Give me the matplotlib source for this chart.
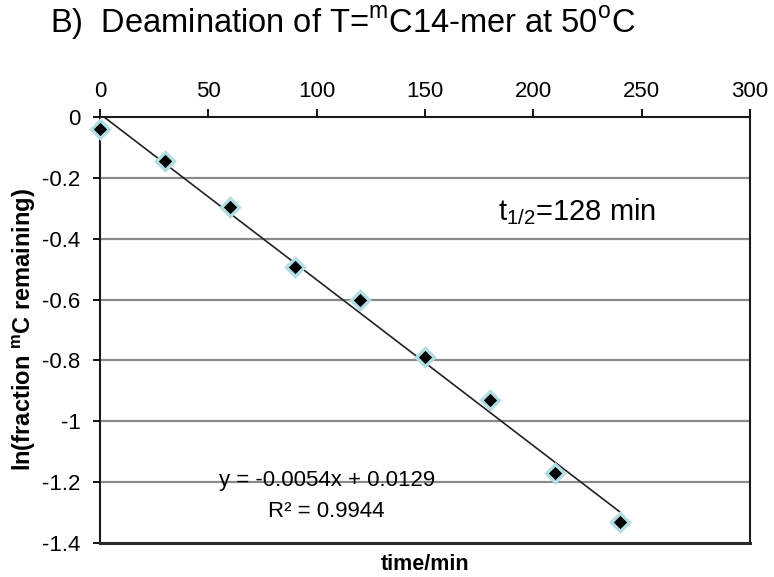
import numpy as np
import matplotlib
matplotlib.use("Agg")
import matplotlib.pyplot as plt

plt.rcParams['axes.unicode_minus'] = False

# ---- data ----
time_min = [0, 30, 60, 90, 120, 150, 180, 210, 240]
ln_frac = [-0.039, -0.144, -0.297, -0.494, -0.601, -0.788, -0.930, -1.171, -1.332]
x_ticks = [0, 50, 100, 150, 200, 250, 300]
y_ticks = [0, -0.2, -0.4, -0.6, -0.8, -1.0, -1.2, -1.4]
y_tick_labels = ['0', '-0.2', '-0.4', '-0.6', '-0.8', '-1', '-1.2', '-1.4']
eq_text = "y = -0.0054x + 0.0129"
r2_text = "R\u00b2 = 0.9944"
half_life_text = r"t$_{\mathregular{1/2}}$=128 min"
title_text = r"B)  Deamination of T=$^{\mathregular{m}}$C14-mer at 50$^{\mathregular{o}}$C"
ylabel_text = r"ln(fraction $^{\mathbf{m}}$C remaining)"
xlabel_text = "time/min"

plt.rcParams['font.family'] = ['Liberation Sans', 'DejaVu Sans']
plt.rcParams['mathtext.fontset'] = 'custom'
plt.rcParams['mathtext.rm'] = 'Liberation Sans'
plt.rcParams['mathtext.bf'] = 'Liberation Sans:bold'

fig = plt.figure(figsize=(7.74, 5.77), dpi=100)
ax = fig.add_axes([100/774, 1-543/577, 650/774, (543-117)/577])

# gridlines
for yv in y_ticks[1:-1]:
    ax.axhline(yv, color='#8a8a8a', lw=1.6, zorder=1)

# trend line
slope, intercept = np.polyfit(time_min, ln_frac, 1)
xs = np.array([0, 240])
ax.plot(xs, slope*xs + intercept, color='#222222', lw=1.2, zorder=2)

ax.plot(time_min, ln_frac, linestyle='none', marker='D', ms=9.5,
        mfc='black', mec='#b2dde2', mew=2.4, zorder=3, clip_on=False)

ax.set_xlim(0, 300)
ax.set_ylim(-1.4, 0)
ax.xaxis.tick_top()
ax.set_xticks(x_ticks)
ax.set_yticks(y_ticks)
ax.set_yticklabels(y_tick_labels)
ax.tick_params(axis='x', which='both', direction='out', length=6, width=1.3,
               pad=5, top=True, bottom=False, labeltop=True, labelbottom=False,
               labelsize=16)
ax.tick_params(axis='y', direction='out', length=5, width=1.3, pad=9, labelsize=16)

for s in ['left', 'top', 'right']:
    ax.spines[s].set_linewidth(1.5)
    ax.spines[s].set_color('#1a1a1a')
ax.spines['bottom'].set_linewidth(2.2)
ax.spines['bottom'].set_color('#2a2a2a')

ax.text(183.5, -0.312, half_life_text, fontsize=21, ha='left', va='center', zorder=4)
ax.text(104.6, -1.193, eq_text, fontsize=16, ha='center', va='center', zorder=4)
ax.text(104.6, -1.298, r2_text, fontsize=16, ha='center', va='center', zorder=4)

fig.text(425/774, 1-565/577, xlabel_text, fontsize=15.5, fontweight='bold', ha='center', va='center')
fig.text(24/774, 1-330/577, ylabel_text, fontsize=17,
         fontweight='bold', rotation=90, ha='center', va='center')

fig.text(50/774, 1-33/577, title_text, fontsize=23.5, ha='left', va='baseline')

fig.savefig('out.png', dpi=100)
